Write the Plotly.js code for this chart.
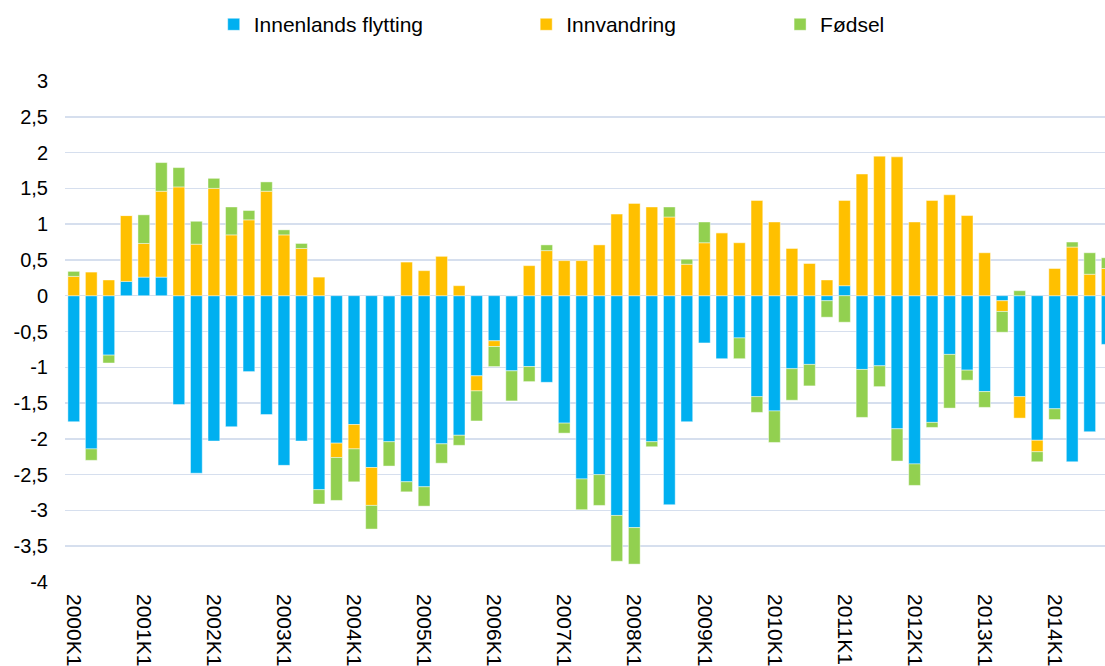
<!DOCTYPE html>
<html>
<head>
<meta charset="utf-8">
<script src="https://cdn.plot.ly/plotly-3.0.1.min.js"></script>
<style>
html, body { margin: 0; padding: 0; overflow: hidden; background: #fff; }
#chart { width: 1116px; height: 666px; }
</style>
</head>
<body>
<div id="chart"></div>
<script>
const categories = [
  "2000K1","2000K2","2000K3","2000K4","2001K1","2001K2","2001K3","2001K4",
  "2002K1","2002K2","2002K3","2002K4","2003K1","2003K2","2003K3","2003K4",
  "2004K1","2004K2","2004K3","2004K4","2005K1","2005K2","2005K3","2005K4",
  "2006K1","2006K2","2006K3","2006K4","2007K1","2007K2","2007K3","2007K4",
  "2008K1","2008K2","2008K3","2008K4","2009K1","2009K2","2009K3","2009K4",
  "2010K1","2010K2","2010K3","2010K4","2011K1","2011K2","2011K3","2011K4",
  "2012K1","2012K2","2012K3","2012K4","2013K1","2013K2","2013K3","2013K4",
  "2014K1","2014K2","2014K3","2014K4"
];

const innenlandsFlytting = [
  -1.76, -2.14, -0.83, 0.20, 0.26, 0.26, -1.52, -2.48,
  -2.03, -1.83, -1.06, -1.66, -2.37, -2.03, -2.71, -2.06,
  -1.80, -2.40, -2.04, -2.60, -2.67, -2.07, -1.95, -1.12,
  -0.63, -1.05, -0.99, -1.21, -1.78, -2.56, -2.50, -3.07,
  -3.24, -2.04, -2.92, -1.76, -0.66, -0.88, -0.59, -1.41,
  -1.61, -1.02, -0.96, -0.07, 0.14, -1.03, -0.98, -1.86,
  -2.35, -1.77, -0.82, -1.04, -1.34, -0.07, -1.41, -2.02,
  -1.58, -2.32, -1.90, -0.68
];

const innvandring = [
  0.27, 0.33, 0.22, 0.92, 0.47, 1.20, 1.52, 0.72,
  1.50, 0.85, 1.06, 1.46, 0.85, 0.66, 0.26, -0.20,
  -0.34, -0.53, 0, 0.47, 0.35, 0.55, 0.14, -0.21,
  -0.08, 0, 0.42, 0.63, 0.49, 0.49, 0.71, 1.14,
  1.29, 1.24, 1.10, 0.44, 0.74, 0.88, 0.74, 1.33,
  1.03, 0.66, 0.45, 0.22, 1.19, 1.70, 1.95, 1.94,
  1.03, 1.33, 1.41, 1.12, 0.60, -0.15, -0.30, -0.16,
  0.38, 0.68, 0.30, 0.38
];

const fodsel = [
  0.07, -0.16, -0.11, 0, 0.40, 0.40, 0.27, 0.32,
  0.14, 0.39, 0.13, 0.13, 0.07, 0.07, -0.20, -0.60,
  -0.46, -0.33, -0.34, -0.14, -0.27, -0.27, -0.14, -0.42,
  -0.28, -0.42, -0.21, 0.08, -0.14, -0.43, -0.43, -0.64,
  -0.51, -0.07, 0.14, 0.07, 0.29, 0, -0.29, -0.22,
  -0.44, -0.44, -0.30, -0.23, -0.37, -0.67, -0.29, -0.45,
  -0.30, -0.07, -0.75, -0.14, -0.22, -0.29, 0.07, -0.14,
  -0.15, 0.07, 0.30, 0.15
];

const xTickVals = ["2000K1","2001K1","2002K1","2003K1","2004K1","2005K1","2006K1","2007K1",
                   "2008K1","2009K1","2010K1","2011K1","2012K1","2013K1","2014K1"];
const yTickVals = [3, 2.5, 2, 1.5, 1, 0.5, 0, -0.5, -1, -1.5, -2, -2.5, -3, -3.5, -4];
const yTickText = ["3","2,5","2","1,5","1","0,5","0","-0,5","-1","-1,5","-2","-2,5","-3","-3,5","-4"];

const seriesNames = ["Innenlands flytting", "Innvandring", "Fødsel"];
const seriesColors = ["#00B0F0", "#FFC000", "#92D050"];

const FONT = "Liberation Sans, Arial, sans-serif";

function barTrace(name, y, color, legendId) {
  return {
    type: "bar", name: name, x: categories, y: y,
    legend: legendId,
    marker: { color: color, line: { color: "rgba(255,255,255,0.55)", width: 0.8 } },
    hoverinfo: "x+y+name"
  };
}

const data = [
  barTrace(seriesNames[0], innenlandsFlytting, seriesColors[0], "legend"),
  barTrace(seriesNames[1], innvandring, seriesColors[1], "legend2"),
  barTrace(seriesNames[2], fodsel, seriesColors[2], "legend3")
];

const legendBase = {
  orientation: "h", xref: "container", yref: "container",
  yanchor: "middle", xanchor: "left", y: 0.963,
  bgcolor: "rgba(0,0,0,0)", borderwidth: 0,
  font: { family: FONT, size: 21, color: "#000" },
  itemwidth: 30
};

const layout = {
  width: 1116, height: 666,
  margin: { l: 65, r: 0, t: 81, b: 84, pad: 0 },
  paper_bgcolor: "#fff", plot_bgcolor: "#fff",
  barmode: "relative",
  bargap: 0.33,
  font: { family: FONT, size: 20, color: "#000" },
  showlegend: true,
  legend: Object.assign({}, legendBase, { x: 0.1915 }),
  legend2: Object.assign({}, legendBase, { x: 0.4715 }),
  legend3: Object.assign({}, legendBase, { x: 0.6990 }),
  xaxis: {
    type: "category",
    categoryorder: "array", categoryarray: categories,
    range: [-0.5, categories.length - 0.5],
    tickmode: "array", tickvals: xTickVals, ticktext: xTickVals,
    tickangle: 90, ticks: "", showgrid: false, zeroline: false,
    showline: false, ticklabelstandoff: 11,
    tickfont: { family: FONT, size: 21, color: "#000" }
  },
  yaxis: {
    range: [-4, 3], tickmode: "array", tickvals: yTickVals, ticktext: yTickText,
    showgrid: true, gridcolor: "#D6DFEE", gridwidth: 1.5,
    zeroline: false, showline: false, ticks: "",
    ticklabelstandoff: 16,
    tickfont: { family: FONT, size: 20, color: "#000" }
  }
};

Plotly.newPlot("chart", data, layout, { displayModeBar: false, staticPlot: true });
</script>
</body>
</html>
